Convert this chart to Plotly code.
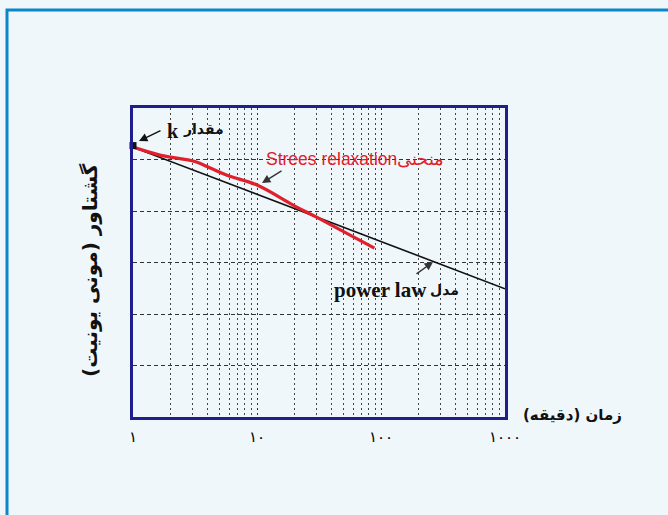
import plotly.graph_objects as go

# ---- data ----
relax_x = [1, 1.68, 3.16, 4.24, 5.8, 10.1, 19.4, 30.2, 88.5]
relax_y = [52.4, 50.8, 49.6, 48.3, 46.9, 45.0, 41.2, 38.8, 32.8]

power_x = [1, 1000]
power_y = [52.4, 24.9]

k_x = [1]
k_y = [52.7]

tick_vals = [1, 10, 100, 1000]
tick_text = ["١", "١٠", "١٠٠", "١٠٠٠"]
minor_vals = [m * d for d in (1, 10, 100) for m in range(2, 10)]

BG = "#eff7fb"
NAVY = "#1e1e8e"

fig = go.Figure()
fig.add_trace(go.Scatter(x=power_x, y=power_y, mode="lines",
                         line=dict(color="#111111", width=1.6),
                         showlegend=False, hoverinfo="skip"))
fig.add_trace(go.Scatter(x=relax_x, y=relax_y, mode="lines",
                         line=dict(color="#e0212b", width=3.2, shape="spline", smoothing=1.0),
                         showlegend=False, hoverinfo="skip"))
fig.add_trace(go.Scatter(x=k_x, y=k_y, mode="markers",
                         marker=dict(symbol="square", size=7, color="#111111"),
                         cliponaxis=False, showlegend=False, hoverinfo="skip"))

grid_col = "#333333"
fig.update_xaxes(type="log", range=[0, 3],
                 tickvals=tick_vals, ticktext=tick_text,
                 tickfont=dict(family="DejaVu Sans", size=15, color="#000000"),
                 ticklabelstandoff=4,
                 showgrid=True, gridcolor=grid_col, gridwidth=1, griddash="2px,3px",
                 minor=dict(tickvals=minor_vals, showgrid=True, gridcolor="#444444",
                            gridwidth=1, griddash="2px,3px", ticks=""),
                 showline=True, linecolor=NAVY, linewidth=2.5, mirror=True,
                 ticks="", zeroline=False)
fig.update_yaxes(range=[0, 60], dtick=10, showticklabels=False,
                 showgrid=True, gridcolor=grid_col, gridwidth=1, griddash="4px,3px",
                 showline=True, linecolor=NAVY, linewidth=2.5, mirror=True,
                 ticks="inside", ticklen=3, tickcolor="#333333", zeroline=False)

L, R, T, B = 133, 505, 108, 417
W, H = 668, 515

def px(xp):
    return (xp - L) / (R - L)

def py(yp):
    return (B - yp) / (B - T)

def txt(x, y, s, size, family, color="#111111", bold=True, **kw):
    return dict(x=px(x), y=py(y), xref="paper", yref="paper", showarrow=False,
                text=("<b>%s</b>" % s) if bold else s,
                font=dict(family=family, size=size, color=color), **kw)

annotations = [
    # texts
    txt(165, 118, "k", 20, "Liberation Serif"),
    txt(181, 119, "مقدار", 14, "DejaVu Sans"),
    txt(355, 147, "Strees relaxationمنحنی", 17.5, "Liberation Sans", color="#e0212b", bold=False),
    txt(380, 290, "power law", 21, "Liberation Serif"),
    txt(461, 290, "مدل", 14, "DejaVu Sans"),
    # axis titles
    txt(521, 426, "زمان (دقیقه)\u200f", 15, "DejaVu Sans", xanchor="left"),
    txt(76, 270, "گشتاور (مونی یونیت)\u200f", 20, "DejaVu Sans", textangle=-90),
    # arrows
    dict(x=px(139), y=py(141), xref="paper", yref="paper", text="", showarrow=True,
         ax=23, ay=-11, arrowhead=2, arrowsize=1.2, arrowwidth=1.4, arrowcolor="#111111"),
    dict(x=px(262), y=py(183), xref="paper", yref="paper", text="", showarrow=True,
         ax=21, ay=-13, arrowhead=2, arrowsize=1.2, arrowwidth=1.4, arrowcolor="#333333"),
    dict(x=px(433), y=py(262), xref="paper", yref="paper", text="", showarrow=True,
         ax=-18, ay=13, arrowhead=2, arrowsize=1.2, arrowwidth=1.4, arrowcolor="#333333"),
]

shapes = [
    dict(type="rect", xref="paper", yref="paper",
         x0=px(7), x1=px(W + 20), y0=py(H + 20), y1=py(10),
         line=dict(color="#0b87c7", width=3), fillcolor="rgba(0,0,0,0)", layer="above"),
]

fig.update_layout(width=W, height=H,
                  margin=dict(l=L, r=W - R, t=T, b=H - B),
                  paper_bgcolor=BG, plot_bgcolor=BG,
                  annotations=annotations, shapes=shapes)

fig.write_html("out.html", config={"displayModeBar": False},
               post_script="document.body.style.margin='0';document.body.style.overflow='hidden';")
